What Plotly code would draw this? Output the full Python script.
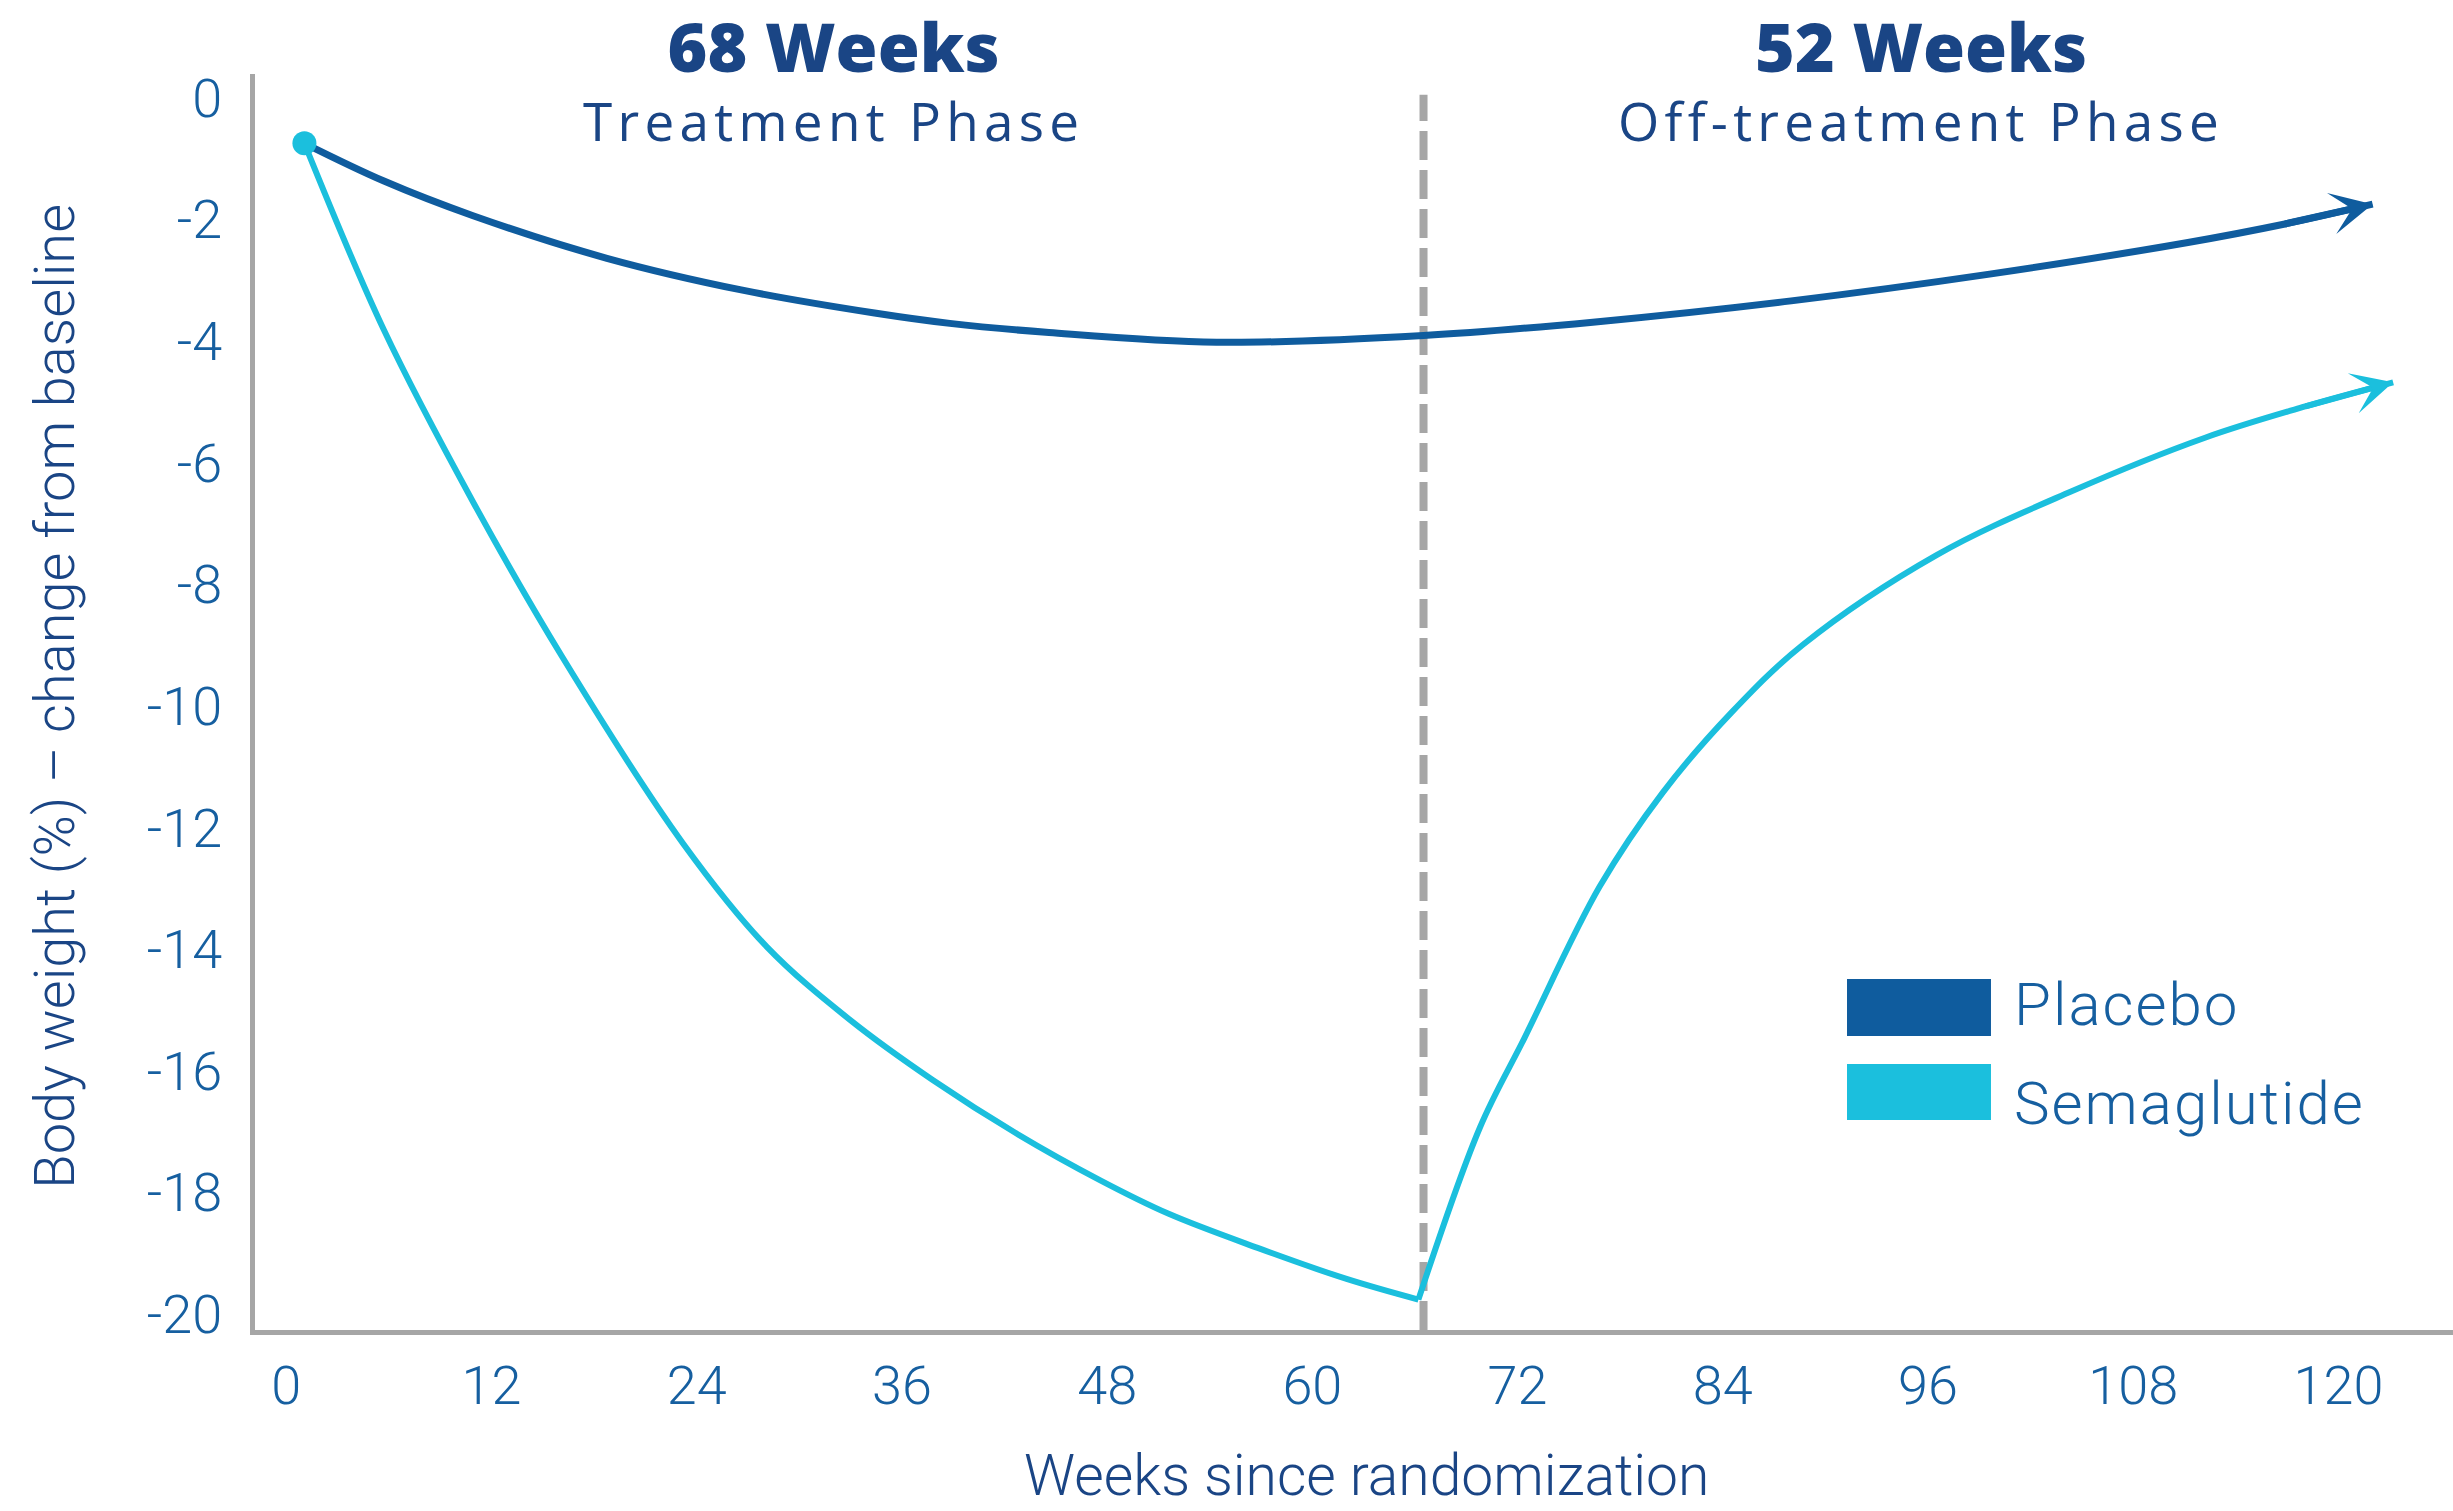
import plotly.graph_objects as go

# ---- data ----
placebo_weeks = [1.06, 5.71, 10.92, 18.75, 26.6, 34.4, 38.8, 44.6, 54.4, 66.5, 76.4, 88.0, 99.6, 111.2, 116.8, 122.0]
placebo_vals = [-0.75, -1.37, -1.94, -2.64, -3.16, -3.54, -3.71, -3.86, -4.02, -3.91, -3.69, -3.34, -2.90, -2.38, -2.08, -1.75]

sema_treat_weeks = [1.06, 5.71, 10.93, 16.15, 23.2, 28.1, 33.0, 37.8, 42.7, 47.6, 51.6, 56.8, 62.0, 66.2]
sema_treat_vals = [-0.75, -3.82, -6.65, -9.2, -12.26, -13.96, -15.17, -16.15, -17.03, -17.8, -18.35, -18.91, -19.42, -19.76]

sema_off_weeks = [66.2, 69.8, 72.4, 76.8, 80.5, 84.5, 88.7, 96.5, 104.4, 112.2, 118.0, 123.2]
sema_off_vals = [-19.76, -16.93, -15.46, -12.97, -11.42, -10.11, -8.99, -7.52, -6.47, -5.59, -5.08, -4.68]

phase_end_week = 66.5

x_tick_vals = [0, 12, 24, 36, 48, 60, 72, 84, 96, 108, 120]
x_tick_text = ["0", "12", "24", "36", "48", "60", "72", "84", "96", "108", "120"]
y_tick_vals = [0, -2, -4, -6, -8, -10, -12, -14, -16, -18, -20]
y_tick_text = ["0", "-2", "-4", "-6", "-8", "-10", "-12", "-14", "-16", "-18", "-20"]

series_names = ["Placebo", "Semaglutide"]
phase_titles = ["68 Weeks", "52 Weeks"]
phase_subtitles = ["Treatment Phase", "Off-treatment Phase"]

# ---- styles ----
C_PLACEBO = "#0f5c9e"
C_SEMA = "#1bbfdd"
C_AXIS = "#a6a6a6"
C_TICK = "#165fa0"
C_TITLE = "#1a4585"
FONT = "Open Sans"
FONT_LIGHT = "Roboto"

fig = go.Figure()

fig.add_trace(go.Scatter(
    x=placebo_weeks, y=placebo_vals, mode="lines",
    line=dict(color=C_PLACEBO, width=7, shape="spline", smoothing=1.0),
    name=series_names[0], showlegend=False, hoverinfo="skip"))

fig.add_trace(go.Scatter(
    x=sema_treat_weeks, y=sema_treat_vals, mode="lines",
    line=dict(color=C_SEMA, width=6, shape="spline", smoothing=1.0),
    name=series_names[1], showlegend=False, hoverinfo="skip"))

fig.add_trace(go.Scatter(
    x=sema_off_weeks, y=sema_off_vals, mode="lines",
    line=dict(color=C_SEMA, width=6, shape="spline", smoothing=1.0),
    name=series_names[1], showlegend=False, hoverinfo="skip"))

# start dot
fig.add_trace(go.Scatter(
    x=[sema_treat_weeks[0]], y=[sema_treat_vals[0]], mode="markers",
    marker=dict(size=24, color=C_SEMA, line=dict(width=0)),
    showlegend=False, hoverinfo="skip"))

# arrowheads at the end of each curve (taken from the last two data points)
for wk, vals, color, width, asize in [(placebo_weeks, placebo_vals, C_PLACEBO, 7, 1.0),
                                      (sema_off_weeks, sema_off_vals, C_SEMA, 6, 1.15)]:
    fig.add_annotation(x=wk[-1], y=vals[-1], ax=wk[-2], ay=vals[-2],
                       xref="x", yref="y", axref="x", ayref="y",
                       showarrow=True, arrowhead=3, arrowsize=asize, arrowwidth=width,
                       arrowcolor=color, text="", standoff=0)

# dashed phase divider
fig.add_shape(type="line", xref="x", yref="y", x0=phase_end_week, x1=phase_end_week,
              y0=-20.26, y1=0.05, line=dict(color=C_AXIS, width=8, dash="29px,10px"),
              layer="below")

# phase titles (bold heading + letter-spaced subtitle in one text block)
for xc, t, s in zip([0.2634, 0.758], phase_titles, phase_subtitles):
    fig.add_annotation(xref="paper", yref="paper", x=xc, y=1.0613,
                       text=(f'<span style="font-size:68px;font-weight:800">{t}</span><br>'
                             f'<span style="letter-spacing:5.3px">{s}</span>'),
                       showarrow=False, xanchor="center", yanchor="top", align="center",
                       font=dict(family=FONT, size=53, color=C_TITLE, weight=400))

# custom legend
for (y0, y1, yt), color, name in zip([(0.2341, 0.2795, 0.259), (0.1672, 0.2118, 0.180)],
                                     [C_PLACEBO, C_SEMA], series_names):
    fig.add_shape(type="rect", xref="paper", yref="paper", x0=0.7243, x1=0.7898,
                  y0=y0, y1=y1, fillcolor=color, line=dict(width=0))
    fig.add_annotation(xref="paper", yref="paper", x=0.7994, y=yt,
                       text=f'<span style="letter-spacing:2px">{name}</span>', showarrow=False,
                       xanchor="left", yanchor="middle",
                       font=dict(family=FONT_LIGHT, size=60, color=C_TICK, weight=300))

# axis titles
fig.add_annotation(xref="paper", yref="paper", x=-0.091, y=0.505,
                   text="Body weight (%) – change from baseline", textangle=-90,
                   showarrow=False, xanchor="center", yanchor="middle",
                   font=dict(family=FONT_LIGHT, size=56, color=C_TITLE, weight=300))
fig.add_annotation(xref="paper", yref="paper", x=0.5055, y=-0.1162,
                   text="Weeks since randomization", showarrow=False,
                   xanchor="center", yanchor="middle",
                   font=dict(family=FONT_LIGHT, size=57, color=C_TITLE, weight=300))

fig.update_layout(
    width=2453, height=1511, autosize=False,
    margin=dict(l=255, r=0, t=74, b=181),
    paper_bgcolor="white", plot_bgcolor="white",
    font=dict(family=FONT),
    xaxis=dict(range=[-1.83, 126.7], tickvals=x_tick_vals, ticktext=x_tick_text,
               showgrid=False, zeroline=False, showline=True, linecolor=C_AXIS,
               linewidth=5, ticks="", ticklabelstandoff=4,
               tickfont=dict(family=FONT_LIGHT, size=54, color=C_TICK, weight=300)),
    yaxis=dict(range=[-20.26, 0.39], tickvals=y_tick_vals, ticktext=y_tick_text,
               showgrid=False, zeroline=False, showline=True, linecolor=C_AXIS,
               linewidth=5, ticks="", ticklabelstandoff=17,
               tickfont=dict(family=FONT_LIGHT, size=54, color=C_TICK, weight=300)),
)

fig.write_html("out.html")
